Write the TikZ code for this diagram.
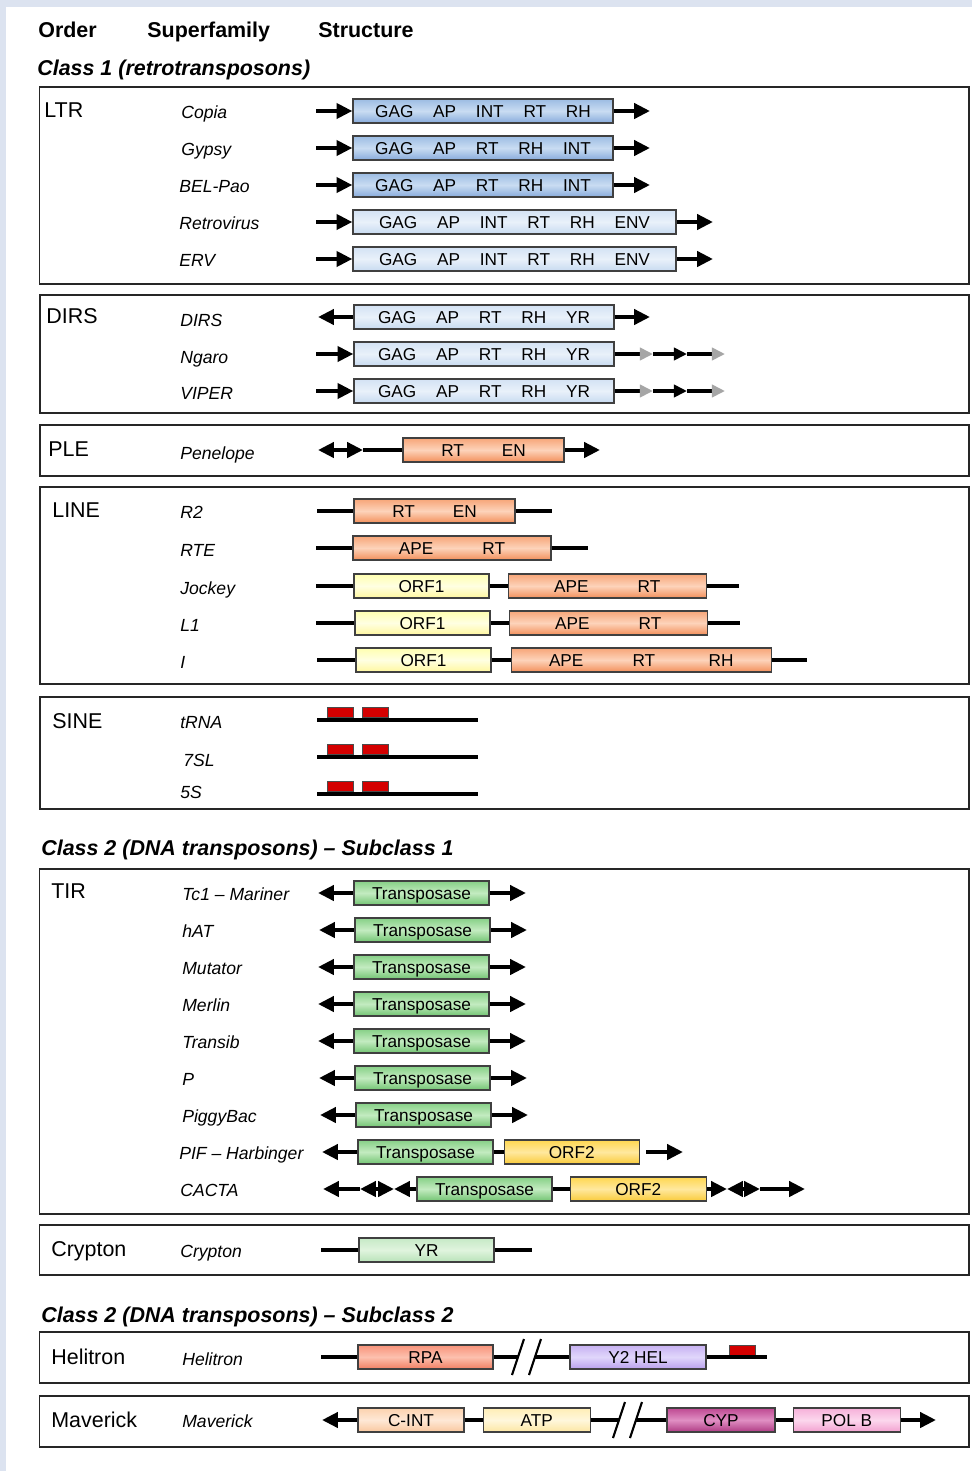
\documentclass[tikz,border=0pt]{standalone}
\usepackage{fontspec}
\setmainfont{Liberation Sans}
\usetikzlibrary{arrows.meta,positioning}

\definecolor{bgblue}{HTML}{DCE3F0}
\definecolor{sinered}{HTML}{D40000}
% box fills: edge, middle, bottom edge
\definecolor{ltrA}{HTML}{9CBCE3}\definecolor{ltrB}{HTML}{C9DCF2}\definecolor{ltrC}{HTML}{87ABDB}
\definecolor{lbA}{HTML}{D3E2F4}\definecolor{lbB}{HTML}{E9F1FA}\definecolor{lbC}{HTML}{C7DAF0}
\definecolor{orA}{HTML}{F7A578}\definecolor{orB}{HTML}{FDD3BA}\definecolor{orC}{HTML}{F28F5A}
\definecolor{yeA}{HTML}{FFFFB0}\definecolor{yeB}{HTML}{FFFFE2}\definecolor{yeC}{HTML}{FFF79E}
\definecolor{grA}{HTML}{86D086}\definecolor{grB}{HTML}{C3EBC0}\definecolor{grC}{HTML}{72C472}
\definecolor{lgA}{HTML}{C6E9C6}\definecolor{lgB}{HTML}{E0F4DE}\definecolor{lgC}{HTML}{B8E2B8}
\definecolor{goA}{HTML}{FFD750}\definecolor{goB}{HTML}{FFE89E}\definecolor{goC}{HTML}{F9CB3A}
\definecolor{rpA}{HTML}{F8937A}\definecolor{rpB}{HTML}{FCC0AE}\definecolor{rpC}{HTML}{F27E62}
\definecolor{heA}{HTML}{C7B1F2}\definecolor{heB}{HTML}{E0D6FB}\definecolor{heC}{HTML}{B9A0EC}
\definecolor{ciA}{HTML}{FCD2AE}\definecolor{ciB}{HTML}{FEE8D6}\definecolor{ciC}{HTML}{F9C79E}
\definecolor{atA}{HTML}{FFEEB6}\definecolor{atB}{HTML}{FFF7DC}\definecolor{atC}{HTML}{FCE6A2}
\definecolor{cyA}{HTML}{BE4892}\definecolor{cyB}{HTML}{E08FC3}\definecolor{cyC}{HTML}{AE3A83}
\definecolor{poA}{HTML}{F6B0D9}\definecolor{poB}{HTML}{FCD7ED}\definecolor{poC}{HTML}{F2A0CF}

\tikzset{
  frame/.style={draw=black!85,line width=0.85pt},
  hdr/.style={anchor=west,inner sep=0pt,font=\fontsize{12.2}{14}\selectfont\bfseries,text height=8.7pt,text depth=0pt},
  cls/.style={hdr,font=\fontsize{12.2}{14}\selectfont\bfseries\itshape},
  ord/.style={anchor=west,inner sep=0pt,font=\fontsize{12.2}{14}\selectfont,text height=8.7pt,text depth=0pt},
  fam/.style={anchor=west,inner sep=0pt,font=\fontsize{10}{12}\selectfont\itshape,text height=7.2pt,text depth=0pt},
  gene/.style={draw=black!75,line width=0.7pt,inner sep=0pt,minimum height=4.8mm,
    font=\fontsize{9.8}{11}\selectfont,text height=7pt,text depth=0pt},
  boxw/.style={minimum width=#1*0.2mm},
  shd/.style={top color=#1A,bottom color=#1C,middle color=#1B},
  ltr/.style={gene,shd=ltr},
  lblue/.style={gene,shd=lb},
  orng/.style={gene,shd=or},
  orf/.style={gene,shd=ye},
  grn/.style={gene,shd=gr},
  lgrn/.style={gene,shd=lg},
  gold/.style={gene,shd=go},
  rpa/.style={gene,shd=rp},
  helc/.style={gene,shd=he},
  cintc/.style={gene,shd=ci},
  atpc/.style={gene,shd=at},
  cypc/.style={gene,shd=cy},
  polc/.style={gene,shd=po},
  redbox/.style={draw=black!70,line width=0.5pt,fill=sinered,inner sep=0pt,minimum height=2mm},
  lnk/.style={line width=2.4pt},
  brk/.style={line width=1.2pt},
  gtip/.style={-{Triangle[length=7.5pt,width=7pt,color=black!35]}},
  stip/.style={-{Triangle[length=7.5pt,width=7pt]}}
}

\newcommand{\gsep}{\hspace{1.15em}}

\begin{document}
\begin{tikzpicture}[x=0.2mm,y=-0.2mm,>={Triangle[length=9pt,width=8.5pt]}]
\useasboundingbox (0,0) rectangle (972,1471);
\fill[bgblue] (0,0) rectangle (972,1471);
\fill[white] (6,7) rectangle (972,1471);

% column heads
\node[hdr] (hord) at (38,30) {Order};
\node[hdr] (hfam) at (147,30) {Superfamily};
\node[hdr] (hstr) at (318,30) {Structure};
\node[cls] (cone) at (37,68) {Class 1 (retrotransposons)};
\node[cls] (ctwo) at (41,848) {Class 2 (DNA transposons) -- Subclass 1};
\node[cls] (cthree) at (41,1315) {Class 2 (DNA transposons) -- Subclass 2};

% order frames
\draw[frame] (39.5,87) rectangle (969,284);
\draw[frame] (40,295) rectangle (969,413);
\draw[frame] (40,425) rectangle (969,476);
\draw[frame] (40,487) rectangle (969,684);
\draw[frame] (40,697) rectangle (969,809);
\draw[frame] (39.5,869) rectangle (969,1214);
\draw[frame] (39.5,1225) rectangle (969,1275);
\draw[frame] (39.5,1332) rectangle (969,1383);
\draw[frame] (39.5,1396) rectangle (969,1447);

% LTR
\node[ord] (ltr) at (44,110) {LTR};
\node[fam] (copiaf) at (181,112) {Copia};
\node[fam] (gypsyf) at (181,149) {Gypsy};
\node[fam] (belf) at (179,186) {BEL-Pao};
\node[fam] (retrof) at (179,223) {Retrovirus};
\node[fam] (ervf) at (179,260) {ERV};

\node[ltr,boxw=260] (copia) at (483,111) {GAG\gsep AP\gsep INT\gsep RT\gsep RH};
\node[ltr,boxw=260] (gypsy) at (483,148) {GAG\gsep AP\gsep RT\gsep RH\gsep INT};
\node[ltr,boxw=260] (bel) at (483,185) {GAG\gsep AP\gsep RT\gsep RH\gsep INT};
\node[lblue,boxw=323] (retro) at (514.5,222) {GAG\gsep AP\gsep INT\gsep RT\gsep RH\gsep ENV};
\node[lblue,boxw=323] (erv) at (514.5,259) {GAG\gsep AP\gsep INT\gsep RT\gsep RH\gsep ENV};

\foreach \n/\y in {copia/111,gypsy/148,bel/185}{
  \coordinate (\n L) at (316,\y);
  \coordinate (\n R) at (650,\y);
  \draw[lnk,->] (\n L) -- (\n.west);
  \draw[lnk,->] (\n.east) -- (\n R);
}
\foreach \n/\y in {retro/222,erv/259}{
  \coordinate (\n L) at (316,\y);
  \coordinate (\n R) at (713,\y);
  \draw[lnk,->] (\n L) -- (\n.west);
  \draw[lnk,->] (\n.east) -- (\n R);
}

% DIRS
\node[ord] (dirso) at (46,316) {DIRS};
\node[fam] (dirsf) at (180,320) {DIRS};
\node[fam] (ngarof) at (180,357) {Ngaro};
\node[fam] (viperf) at (180,393) {VIPER};

\node[lblue,boxw=260] (dirs) at (484,317) {GAG\gsep AP\gsep RT\gsep RH\gsep YR};
\node[lblue,boxw=260] (ngaro) at (484,354) {GAG\gsep AP\gsep RT\gsep RH\gsep YR};
\node[lblue,boxw=260] (viper) at (484,391) {GAG\gsep AP\gsep RT\gsep RH\gsep YR};

\coordinate (dirsL) at (318,317);
\coordinate (dirsR) at (650,317);
\draw[lnk,<-] (dirsL) -- (dirs.west);
\draw[lnk,->] (dirs.east) -- (dirsR);
\foreach \n/\y in {ngaro/354,viper/391}{
  \coordinate (\n L) at (316,\y);
  \coordinate (\n A) at (653,\y);
  \coordinate (\n B) at (687,\y);
  \coordinate (\n R) at (725,\y);
  \draw[lnk,->] (\n L) -- (\n.west);
  \draw[lnk,gtip] (\n.east) -- (\n A);
  \draw[lnk,stip] (\n A) -- (\n B);
  \draw[lnk,gtip] (\n B) -- (\n R);
}

% PLE
\node[ord] (pleo) at (48,449) {PLE};
\node[fam] (penf) at (180,453) {Penelope};
\node[orng,boxw=161] (pen) at (483.5,450) {RT\hspace{2.2em}EN};
\coordinate (penA) at (318,450);
\coordinate (penB) at (363,450);
\coordinate (penR) at (600,450);
\draw[lnk,<->] (penA) -- (penB);
\draw[lnk] (penB) -- (pen.west);
\draw[lnk,->] (pen.east) -- (penR);

% LINE
\node[ord] (lineo) at (52,510) {LINE};
\node[fam] (rtwof) at (180,512) {R2};
\node[fam] (rtef) at (180,550) {RTE};
\node[fam] (jockf) at (180,588) {Jockey};
\node[fam] (lonef) at (180,625) {L1};
\node[fam] (ief) at (180,662) {I};

\node[orng,boxw=161] (rtwo) at (434.5,511) {RT\hspace{2.2em}EN};
\node[orng,boxw=198] (rte) at (452,548) {APE\hspace{2.85em}RT};
\node[orf,boxw=135] (jockA) at (421.5,586) {ORF1};
\node[orng,boxw=198,right=3.6mm of jockA] (jockB) {APE\hspace{2.85em}RT};
\node[orf,boxw=135] (loneA) at (422.5,623) {ORF1};
\node[orng,boxw=198,right=3.6mm of loneA] (loneB) {APE\hspace{2.85em}RT};
\node[orf,boxw=135] (ieA) at (423.5,660) {ORF1};
\node[orng,boxw=260,right=3.8mm of ieA] (ieB) {APE\hspace{2.85em}RT\hspace{3.1em}RH};

\coordinate (rtwoL) at (317,511);
\coordinate (rtwoR) at (552,511);
\coordinate (rteL) at (316,548);
\coordinate (rteR) at (588,548);
\coordinate (jockL) at (316,586);
\coordinate (jockR) at (739,586);
\coordinate (loneL) at (316,623);
\coordinate (loneR) at (740,623);
\coordinate (ieL) at (317,660);
\coordinate (ieR) at (807,660);
\draw[lnk] (rtwoL) -- (rtwo.west) (rtwo.east) -- (rtwoR);
\draw[lnk] (rteL) -- (rte.west) (rte.east) -- (rteR);
\draw[lnk] (jockL) -- (jockA.west) (jockA.east) -- (jockB.west) (jockB.east) -- (jockR);
\draw[lnk] (loneL) -- (loneA.west) (loneA.east) -- (loneB.west) (loneB.east) -- (loneR);
\draw[lnk] (ieL) -- (ieA.west) (ieA.east) -- (ieB.west) (ieB.east) -- (ieR);

% SINE
\node[ord] (sineo) at (52,721) {SINE};
\node[fam] (trnaf) at (180,722) {tRNA};
\node[fam] (sevenf) at (183,760) {7SL};
\node[fam] (fivef) at (180,792) {5S};
\foreach \n/\y in {trna/720,seven/757,five/794}{
  \coordinate (\n L) at (317,\y);
  \coordinate (\n R) at (478,\y);
  \draw[lnk] (\n L) -- (\n R);
  \node[redbox,boxw=26] (\n A) at (340,\y-7.5) {};
  \node[redbox,boxw=26] (\n B) at (375,\y-7.5) {};
}

% TIR
\node[ord] (tiro) at (51,891) {TIR};
\foreach \f/\y/\x [count=\i] in {Tc1 -- Mariner/893/421.5,hAT/930/422.5,Mutator/967/421.5,
    Merlin/1004/421.5,Transib/1041/421.5,P/1078/422.5,PiggyBac/1115/423.5}{
  \node[fam] (tirf\i) at (182,\y+1) {\f};
  \node[grn,boxw=135] (tir\i) at (\x,\y) {Transposase};
  \coordinate (tirL\i) at (\x-103.5,\y);
  \coordinate (tirR\i) at (\x+104.5,\y);
  \draw[lnk,<-] (tirL\i) -- (tir\i.west);
  \draw[lnk,->] (tir\i.east) -- (tirR\i);
}

\node[fam] (piff) at (179,1153) {PIF -- Harbinger};
\node[grn,boxw=135] (pifA) at (425.5,1152) {Transposase};
\node[gold,boxw=135,right=2mm of pifA] (pifB) {ORF2};
\coordinate (pifL) at (322,1152);
\coordinate (pifC) at (646,1152);
\coordinate (pifR) at (683,1152);
\draw[lnk,<-] (pifL) -- (pifA.west);
\draw[lnk] (pifA.east) -- (pifB.west);
\draw[lnk,->] (pifC) -- (pifR);

\node[fam] (cactaf) at (180,1190) {CACTA};
\node[grn,boxw=135] (cactA) at (484.5,1189) {Transposase};
\node[gold,boxw=136,right=3.4mm of cactA] (cactB) {ORF2};
\coordinate (cacA) at (323,1189);
\coordinate (cacB) at (360,1189);
\coordinate (cacC) at (394,1189);
\coordinate (cacD) at (727,1189);
\coordinate (cacE) at (760,1189);
\coordinate (cacR) at (805,1189);
\draw[lnk,<-] (cacA) -- (cacB);
\draw[lnk,<->] (cacB) -- (cacC);
\draw[lnk,<-] (cacC) -- (cactA.west);
\draw[lnk] (cactA.east) -- (cactB.west);
\draw[lnk,->] (cactB.east) -- (cacD);
\draw[lnk,<->] (cacD) -- (cacE);
\draw[lnk,->] (cacE) -- (cacR);

% Crypton
\node[ord] (crypo) at (51,1249) {Crypton};
\node[fam] (crypf) at (180,1251) {Crypton};
\node[lgrn,boxw=135] (cryp) at (426.5,1250) {YR};
\coordinate (crypL) at (321,1250);
\coordinate (crypR) at (532,1250);
\draw[lnk] (crypL) -- (cryp.west) (cryp.east) -- (crypR);

% Helitron
\node[ord] (helo) at (51,1357) {Helitron};
\node[fam] (helf) at (182,1359) {Helitron};
\node[rpa,boxw=135] (rpa) at (425.5,1357) {RPA};
\node[helc,boxw=136] (yhel) at (638,1357) {Y2 HEL};
\node[redbox,boxw=26] (helt) at (742.5,1350.5) {};
\coordinate (helL) at (321,1357);
\coordinate (helA) at (518,1357);
\coordinate (helB) at (535,1357);
\coordinate (helR) at (767,1357);
\draw[lnk] (helL) -- (rpa.west) (rpa.east) -- (helA) (helB) -- (yhel.west) (yhel.east) -- (helR);
\draw[brk] (helA) ++(-6,18) -- ++(12,-36);
\draw[brk] (helB) ++(-6,18) -- ++(12,-36);

% Maverick
\node[ord] (mavo) at (51,1420) {Maverick};
\node[fam] (mavf) at (182,1421) {Maverick};
\node[cintc,boxw=106] (cint) at (411,1420) {C-INT};
\node[atpc,boxw=107,right=3.6mm of cint] (atp) {ATP};
\node[cypc,boxw=108] (cyp) at (721,1420) {CYP};
\node[polc,boxw=107,right=3.4mm of cyp] (polb) {POL B};
\coordinate (mavL) at (322,1420);
\coordinate (mavA) at (619,1420);
\coordinate (mavB) at (636,1420);
\coordinate (mavR) at (936,1420);
\draw[lnk,<-] (mavL) -- (cint.west);
\draw[lnk] (cint.east) -- (atp.west) (atp.east) -- (mavA) (mavB) -- (cyp.west) (cyp.east) -- (polb.west);
\draw[lnk,->] (polb.east) -- (mavR);
\draw[brk] (mavA) ++(-6,18) -- ++(12,-36);
\draw[brk] (mavB) ++(-6,18) -- ++(12,-36);
\end{tikzpicture}
\end{document}
